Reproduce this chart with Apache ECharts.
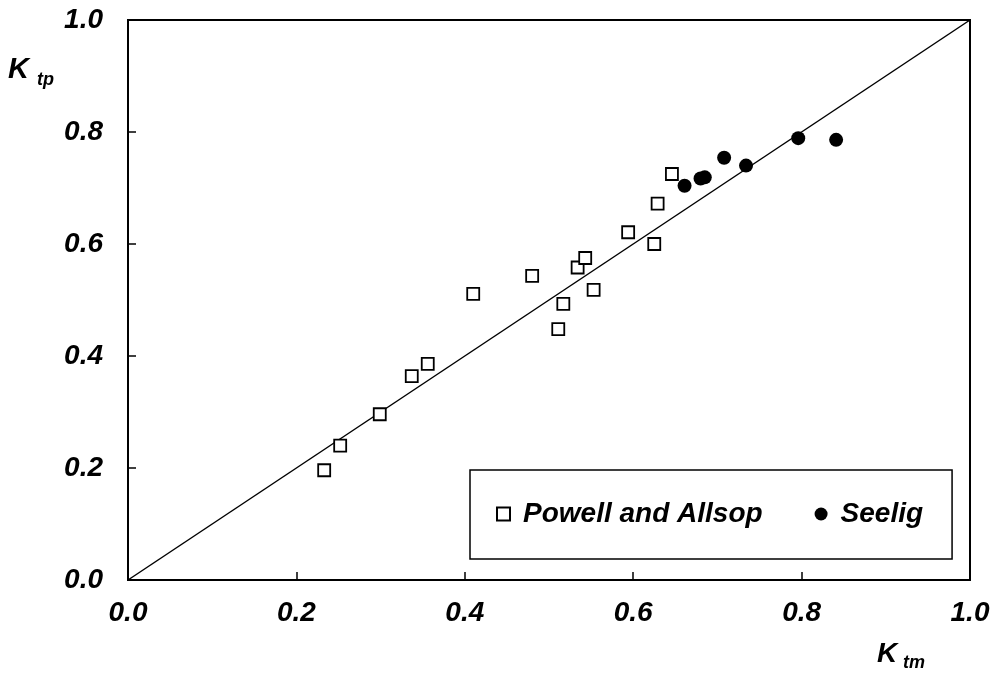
<!DOCTYPE html>
<html>
<head>
<meta charset="utf-8">
<script src="https://cdn.jsdelivr.net/npm/echarts@6/dist/echarts.min.js"></script>
<style>
html,body{margin:0;padding:0;background:#fff;}
#chart{width:992px;height:675px;}
</style>
</head>
<body>
<div id="chart"></div>
<script>
// Data
var powellX = [0.233, 0.252, 0.299, 0.337, 0.356, 0.410, 0.480, 0.511, 0.517, 0.534, 0.543, 0.553, 0.594, 0.625, 0.629, 0.646];
var powellY = [0.196, 0.240, 0.296, 0.364, 0.386, 0.511, 0.543, 0.448, 0.493, 0.558, 0.575, 0.518, 0.621, 0.600, 0.672, 0.725];
var seeligX = [0.661, 0.680, 0.685, 0.708, 0.734, 0.796, 0.841];
var seeligY = [0.704, 0.717, 0.719, 0.754, 0.740, 0.789, 0.786];
var lineX = [0, 1];
var lineY = [0, 1];
var seriesNames = ['Powell and Allsop', 'Seelig'];

function zip(a, b) { return a.map(function (v, i) { return [v, b[i]]; }); }

var FONT = '"Liberation Sans", Arial, sans-serif';
var chart = echarts.init(document.getElementById('chart'), null, {renderer: 'canvas'});

var axisCommon = {
  type: 'value', min: 0, max: 1, interval: 0.2,
  axisLine: {show: true, lineStyle: {color: '#000', width: 2}},
  axisTick: {show: true, inside: true, length: 8, lineStyle: {color: '#000', width: 1.5}},
  splitLine: {show: false},
  axisLabel: {
    color: '#000', fontFamily: FONT, fontSize: 28, fontWeight: 'bold', fontStyle: 'italic',
    formatter: function (v) { return v.toFixed(1); }
  }
};

chart.setOption({
  backgroundColor: '#fff',
  animation: false,
  grid: {
    left: 128, right: 22, top: 20, bottom: 95,
    show: true, borderColor: '#000', borderWidth: 2,
    outerBoundsMode: 'none'
  },
  xAxis: echarts.util.merge({axisLabel: {margin: 19}}, axisCommon, true),
  yAxis: echarts.util.merge({axisLabel: {margin: 25}}, axisCommon, true),
  legend: {
    data: seriesNames,
    left: 470, top: 470,
    orient: 'horizontal',
    padding: [30, 29, 31, 26],
    borderColor: '#000', borderWidth: 1.5,
    backgroundColor: '#fff',
    itemGap: 52, itemWidth: 13, itemHeight: 13,
    textStyle: {
      color: '#000', fontFamily: FONT, fontSize: 28, fontWeight: 'bold', fontStyle: 'italic',
      padding: [0, 0, 0, 8]
    }
  },
  series: [
    {
      type: 'line', data: zip(lineX, lineY), symbol: 'none', silent: true,
      lineStyle: {color: '#000', width: 1.5}, z: 1
    },
    {
      name: seriesNames[0], type: 'scatter', data: zip(powellX, powellY),
      symbol: 'rect', symbolSize: 12,
      itemStyle: {color: '#fff', borderColor: '#000', borderWidth: 1.8, opacity: 1}, z: 3
    },
    {
      name: seriesNames[1], type: 'scatter', data: zip(seeligX, seeligY),
      symbol: 'circle', symbolSize: 14,
      itemStyle: {color: '#000', opacity: 1}, z: 4
    }
  ],
  graphic: [
    {type: 'text', x: 8, y: 70, style: {text: 'K', font: 'italic bold 29px ' + FONT, fill: '#000', verticalAlign: 'middle'}},
    {type: 'text', x: 37, y: 80, style: {text: 'tp', font: 'italic bold 18px ' + FONT, fill: '#000', verticalAlign: 'middle'}},
    {type: 'text', x: 877, y: 654, style: {text: 'K', font: 'italic bold 28px ' + FONT, fill: '#000', verticalAlign: 'middle'}},
    {type: 'text', x: 903, y: 663, style: {text: 'tm', font: 'italic bold 18px ' + FONT, fill: '#000', verticalAlign: 'middle'}}
  ]
});
</script>
</body>
</html>
